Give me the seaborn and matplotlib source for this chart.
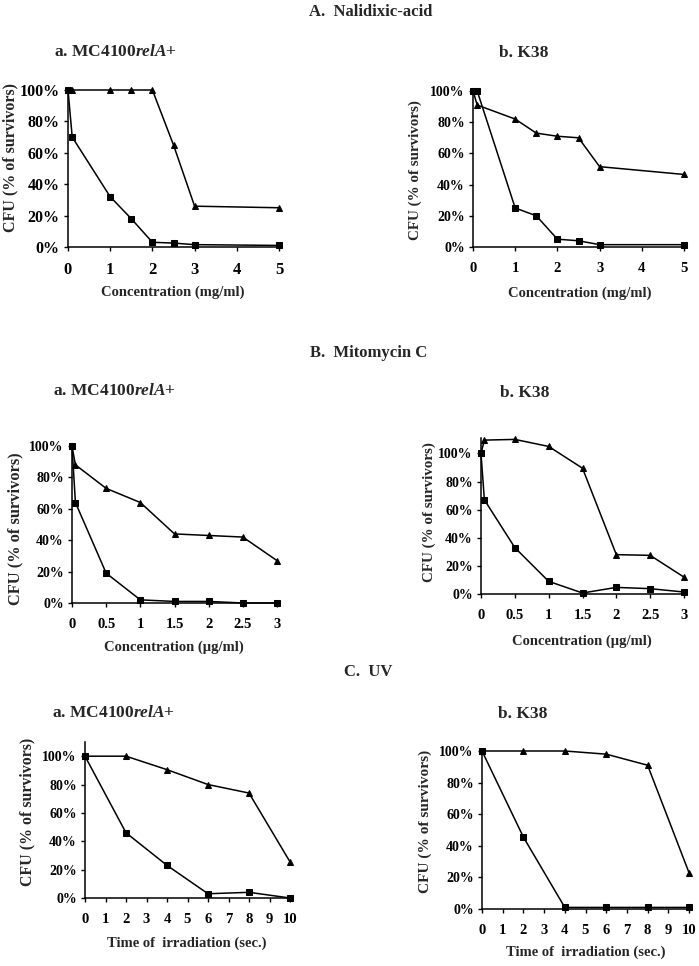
import numpy as np
import pandas as pd
import seaborn as sns
import matplotlib
matplotlib.use("Agg")
import matplotlib.pyplot as plt
from matplotlib.ticker import PercentFormatter, FixedLocator

# Survival curves (% of survivors)
# A. Nalidixic acid (mg/ml)
nal_x = [0, 0.1, 1, 1.5, 2, 2.5, 3, 5]
nal_mc_tri = [100, 100, 100, 100, 100, 65, 26, 25]
nal_mc_sq = [100, 70, 32, 18, 3, 2.5, 1.5, 1]
nal_k38_tri = [100, 91, 82, 73, 71, 70, 51.5, 46.5]
nal_k38_sq = [100, 100, 25, 20, 5, 4, 1.5, 1.5]

# B. Mitomycin C (ug/ml)
mit_x = [0, 0.05, 0.5, 1, 1.5, 2, 2.5, 3]
mit_mc_tri = [100, 88, 73, 64, 44, 43, 42, 27]
mit_mc_sq = [100, 64, 19, 2, 1, 1, 0, 0]
mit_k38_tri = [100, 109.5, 110, 105, 89.5, 28, 27.5, 12]
mit_k38_sq = [100, 67, 33, 9, 0.7, 4.7, 3.8, 1.4]

# C. UV (sec.)
uv_x = [0, 2, 4, 6, 8, 10]
uv_mc_tri = [100, 100, 90.5, 80, 74, 25.5]
uv_mc_sq = [100, 46, 23, 3, 4, 0]
uv_k38_tri = [100, 100, 100, 98, 91, 23]
uv_k38_sq = [100, 45.5, 1, 1, 1, 1]

nal_ticks = [0, 1, 2, 3, 4, 5]
mit_ticks = [0, 0.5, 1, 1.5, 2, 2.5, 3]
mit_ticklabels = ["0", "0.5", "1", "1.5", "2", "2.5", "3"]
uv_ticks = list(range(0, 11))

sns.set_style("ticks")
plt.rcParams["font.family"] = ["Liberation Serif", "DejaVu Serif"]
plt.rcParams["font.weight"] = "bold"
plt.rcParams["mathtext.fontset"] = "custom"
plt.rcParams["mathtext.it"] = "Liberation Serif:italic:bold"
plt.rcParams["mathtext.rm"] = "Liberation Serif:bold"

W, H = 699, 966
fig = plt.figure(figsize=(W / 100, H / 100), dpi=100)


def px_rect(left, right, top, bottom):
    return [left / W, 1 - bottom / H, (right - left) / W, (bottom - top) / H]


def panel(rect, x, tri, sq, xmax, ymax, ticks, ticklabels, title, title_xy,
          xlabel, xlabel_xy, ylabel_xy, tick_size=10, ylabel_size=11.5):
    ax = fig.add_axes(px_rect(*rect))
    df = pd.DataFrame({
        "x": list(x) * 2,
        "y": list(tri) + list(sq),
        "series": ["tri"] * len(x) + ["sq"] * len(x),
    })
    sns.lineplot(data=df, x="x", y="y", style="series", markers={"tri": "^", "sq": "s"},
                 dashes=False, color="black", linewidth=1.1, markersize=5,
                 markeredgecolor="black", sort=False, ax=ax, legend=False)
    for line in ax.lines:
        line.set_clip_on(False)
    ax.set_xlim(0, xmax)
    ax.set_ylim(0, ymax)
    ax.yaxis.set_major_locator(FixedLocator([0, 20, 40, 60, 80, 100]))
    ax.yaxis.set_major_formatter(PercentFormatter(decimals=0))
    ax.set_xticks(ticks)
    ax.set_xticklabels(ticklabels)
    ax.tick_params(axis="both", direction="out", length=3, width=1, colors="black",
                   labelsize=tick_size, pad=3)
    ax.tick_params(axis="x", pad=8, labelsize=tick_size + 0.5)
    for s in ["top", "right"]:
        ax.spines[s].set_visible(False)
    for s in ["left", "bottom"]:
        ax.spines[s].set_linewidth(1.1)
        ax.spines[s].set_color("black")
    ax.set_xlabel(xlabel, fontsize=10.5, fontweight="bold")
    ax.xaxis.set_label_coords(xlabel_xy[0] / W, 1 - xlabel_xy[1] / H, transform=fig.transFigure)
    ax.xaxis.label.set_va("center")
    ax.set_ylabel("CFU (% of survivors)", fontsize=ylabel_size, fontweight="bold")
    ax.yaxis.set_label_coords(ylabel_xy[0] / W, 1 - ylabel_xy[1] / H, transform=fig.transFigure)
    ax.yaxis.label.set_va("center")
    fig.text(title_xy[0] / W, 1 - title_xy[1] / H, title, fontsize=12.5, fontweight="bold",
             ha="center", va="center")
    return ax


mc_title = r"a. MC4100$\mathit{relA}$+"
k38_title = "b. K38"

fig.text(371 / W, 1 - 12 / H, "A.  Nalidixic-acid", fontsize=12, fontweight="bold", ha="center", va="center")
fig.text(369 / W, 1 - 353 / H, "B.  Mitomycin C", fontsize=12, fontweight="bold", ha="center", va="center")
fig.text(368 / W, 1 - 672 / H, "C.  UV", fontsize=12, fontweight="bold", ha="center", va="center")

panel((68, 279, 90, 247), nal_x, nal_mc_tri, nal_mc_sq, 5, 100, nal_ticks, [str(t) for t in nal_ticks],
      mc_title, (115, 52), "Concentration (mg/ml)", (173, 292), (10, 158),
      tick_size=11.5, ylabel_size=11.5)
panel((473, 684, 91, 247), nal_x, nal_k38_tri, nal_k38_sq, 5, 100, nal_ticks, [str(t) for t in nal_ticks],
      k38_title, (524, 53), "Concentration (mg/ml)", (580, 293), (415, 170),
      tick_size=10, ylabel_size=10.8)

panel((72, 277, 446, 603), mit_x, mit_mc_tri, mit_mc_sq, 3, 100, mit_ticks, mit_ticklabels,
      mc_title, (114, 391), "Concentration (\u00b5g/ml)", (174, 647), (15, 529),
      tick_size=10, ylabel_size=11.8)
panel((481, 684, 438, 594), mit_x, mit_k38_tri, mit_k38_sq, 3, 111, mit_ticks, mit_ticklabels,
      k38_title, (525, 393), "Concentration (\u00b5g/ml)", (582, 641), (429, 512),
      tick_size=10, ylabel_size=10.8)

panel((85, 290, 742, 898), uv_x, uv_mc_tri, uv_mc_sq, 10, 110, uv_ticks, [str(t) for t in uv_ticks],
      mc_title, (113, 713), "Time of  irradiation (sec.)", (187, 943), (27, 812),
      tick_size=10, ylabel_size=11.4)
panel((482, 689, 751, 909), uv_x, uv_k38_tri, uv_k38_sq, 10, 100, uv_ticks, [str(t) for t in uv_ticks],
      k38_title, (523, 714), "Time of  irradiation (sec.)", (586, 952), (425, 821),
      tick_size=10, ylabel_size=11.1)

fig.savefig("out.png", dpi=100)
